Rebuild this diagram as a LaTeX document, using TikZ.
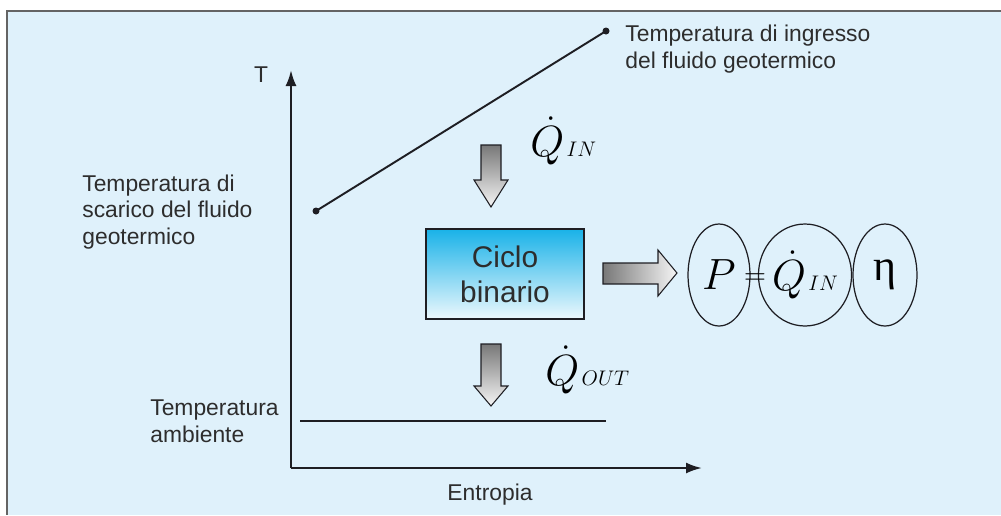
\documentclass[tikz,border=0pt]{standalone}
\usepackage{fontspec}
\setmainfont{Liberation Sans}
\newfontfamily\greekserif{Liberation Serif}
\usetikzlibrary{arrows.meta,shapes.geometric,positioning}

\definecolor{panelblue}{RGB}{223,241,251}
\definecolor{panelborder}{RGB}{100,100,100}
\definecolor{textgrey}{RGB}{45,45,45}
\definecolor{linegrey}{RGB}{30,30,35}
\definecolor{cyclecyan}{RGB}{25,178,232}
\definecolor{cyclepale}{RGB}{236,248,253}
\definecolor{arrowdark}{RGB}{120,120,120}
\definecolor{arrowlight}{RGB}{245,245,245}

\tikzset{
  lbl/.style={font=\fontsize{13}{15.3}\selectfont, text=textgrey, align=left, inner sep=0pt},
  axisline/.style={line width=1.3pt, draw=linegrey, -{Latex[length=3.2mm,width=2.2mm]}},
  dotend/.style={circle, fill=linegrey, inner sep=0pt, minimum size=1.4mm},
  bigq/.style={font=\fontsize{25}{30}\selectfont, inner sep=0pt, anchor=west},
  oval/.style={ellipse, draw=linegrey, line width=0.7pt, inner sep=0pt,
    minimum height=2.04cm, font=\fontsize{25}{30}\selectfont},
  blockarrow/.style={draw=linegrey, line width=0.6pt},
}

\begin{document}
\begin{tikzpicture}[x=0.02cm, y=-0.02cm]
\useasboundingbox (0,0) rectangle (1001,515);
\fill[panelblue] (7,11) rectangle (1001,515);
\draw[panelborder, line width=1pt] (1001,11) -- (7,11) -- (7,515);

% axes
\coordinate (origin) at (291,468);
\coordinate (ttip) at (291,70);
\coordinate (stip) at (702,468);
\draw[axisline] (origin) -- (ttip);
\draw[axisline] (origin) -- (stip);
\node[lbl] (tlabel) at (261,75) {T};
\node[lbl] (entropia) at (490,495) {Entropia};

% fluid line and ambient line
\node[dotend] (tout) at (316,211) {};
\node[dotend] (tin) at (606,31) {};
\draw[line width=1.1pt, linegrey] (tout.center) -- (tin.center);
\coordinate (amba) at (300,421);
\coordinate (ambb) at (606,421);
\draw[line width=1.1pt, linegrey] (amba) -- (ambb);

\node[lbl, anchor=west] (tinlabel) at (625,49) {Temperatura di ingresso\\del fluido geotermico};
\node[lbl, anchor=west] (toutlabel) at (82,212) {Temperatura di\\scarico del fluido\\geotermico};
\node[lbl, anchor=west] (tamblabel) at (150,421) {Temperatura\\ambiente};

% cycle box
\node[draw=linegrey, line width=0.8pt, top color=cyclecyan, bottom color=cyclepale,
  minimum width=3.16cm, minimum height=1.8cm, align=center,
  font=\fontsize{17}{20}\selectfont, text=textgrey] (ciclo) at (505,274) {Ciclo\\binario};

% heat arrows
\shade[blockarrow, top color=arrowdark, bottom color=arrowlight]
  (481,145) -- (501,145) -- (501,180) -- (508,180) -- (491,207) -- (474,180) -- (481,180) -- cycle;
\shade[blockarrow, top color=arrowdark, bottom color=arrowlight]
  (481,344) -- (501,344) -- (501,386) -- (508,386) -- (491,406) -- (474,386) -- (481,386) -- cycle;
\shade[blockarrow, left color=arrowdark, right color=arrowlight]
  (603,263) -- (658,263) -- (658,250) -- (677,273) -- (658,296) -- (658,284) -- (603,284) -- cycle;

\node[bigq] (qin) at (530,141) {$\dot{Q}\mkern1mu{\scriptscriptstyle IN}$};
\node[bigq] (qout) at (545,370) {$\dot{Q}\mkern1mu{\scriptscriptstyle OUT}$};

% power = heat x efficiency
\node[oval, minimum width=1.24cm] (pow) at (719,275) {$P$};
\node[oval, minimum width=1.68cm] (qeq) at (805,275) {$\dot{Q}\mkern1mu{\scriptscriptstyle IN}$};
\node[oval, minimum width=1.28cm] (eta) at (885,275) {\greekserif η};
\node[font=\fontsize{16}{18}\selectfont, inner sep=0pt] (eqsign) at (755,279) {$=$};
\end{tikzpicture}
\end{document}
